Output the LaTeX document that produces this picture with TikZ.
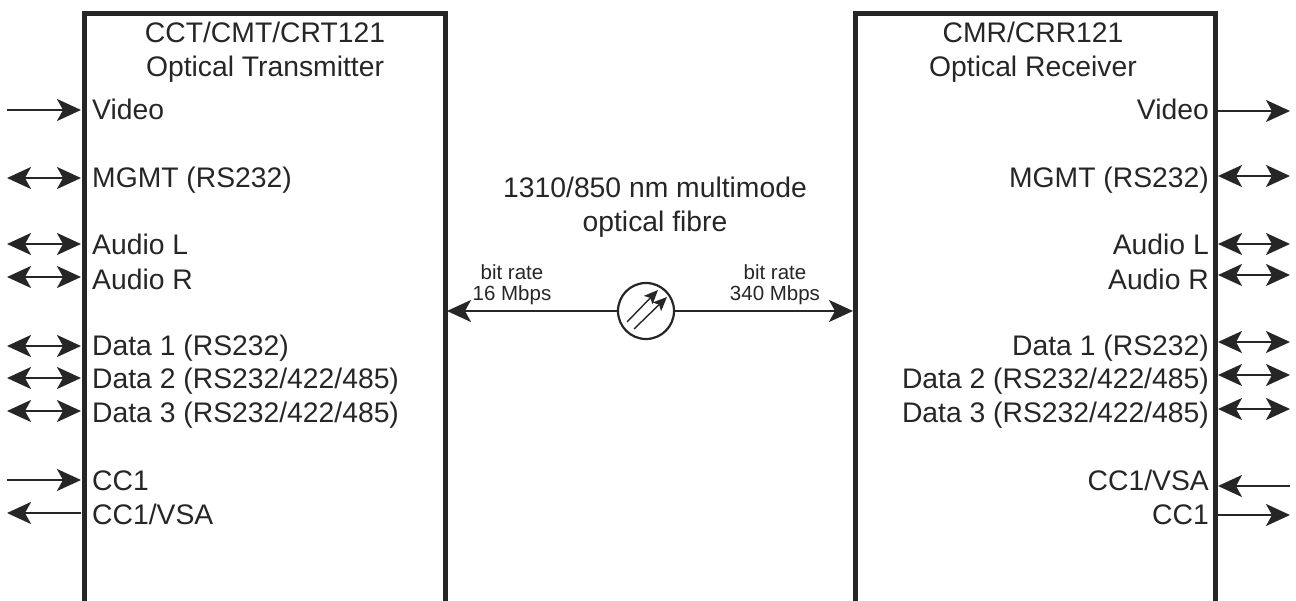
\documentclass[tikz,border=0pt]{standalone}
\usepackage{fontspec}
\setmainfont{Liberation Sans}
\usetikzlibrary{arrows.meta}
\tikzset{
  head/.tip={Stealth[length=24pt,width=22pt,inset=6pt]},
  sig/.style={line width=2.2pt,draw=black!85,head-head},
  sigin/.style={line width=2.2pt,draw=black!85,-head},
  lbl/.style={inner sep=0pt,text=black!85,font=\fontsize{28.3}{34.5}\selectfont},
  lblw/.style={lbl,anchor=base west},
  lble/.style={lbl,anchor=base east},
  small/.style={inner sep=0pt,text=black!85,align=center,font=\fontsize{20.5}{21}\selectfont}
}
\begin{document}
\begin{tikzpicture}[x=1pt,y=-1pt]
    \useasboundingbox (0,0) rectangle (1296,601);

    % Boxes
    \draw[line width=5pt,draw=black!85] (84,601) -- (84,14) -- (445,14) -- (445,601);
    \draw[line width=5pt,draw=black!85] (855,601) -- (855,14) -- (1215,14) -- (1215,601);
    \coordinate (txa) at (447,311);
    \coordinate (rxa) at (853,311);

    % Titles
    \node[lbl,align=center] (txtitle) at (265,52) {CCT/CMT/CRT121\\Optical Transmitter};
    \node[lbl,align=center] (rxtitle) at (1033,52) {CMR/CRR121\\Optical Receiver};
    \node[lbl,align=center] (fibre) at (655,207) {1310/850 nm multimode\\optical fibre};

    % Transmitter ports
    \foreach \name/\py/\pb/\txt in {tv/110/120/Video,tm/178/188/MGMT (RS232),tl/244/255/Audio L,tr/277/290/Audio R,
      ta/346/356/Data 1 (RS232),tb/378/389/{Data 2 (RS232/422/485)},tc/411/423/{Data 3 (RS232/422/485)},
      td/480/490/CC1,te/513/524/{CC1/VSA}}{
      \coordinate (\name o) at (7,\py);
      \coordinate (\name i) at (81,\py);
      \node[lblw] (\name) at (92,\pb) {\txt};
    }
    \draw[sigin] (tvo) -- (tvi);
    \foreach \name in {tm,tl,tr,ta,tb,tc}
      \draw[sig] (\name o) -- (\name i);
    \draw[sigin] (tdo) -- (tdi);
    \draw[sigin] (tei) -- (teo);

    % Receiver ports
    \foreach \name/\py/\pb/\txt in {rv/111/120/Video,rm/176/188/MGMT (RS232),rl/244/255/Audio L,rr/275/290/Audio R,
      ra/342/356/Data 1 (RS232),rb/375/389/{Data 2 (RS232/422/485)},rc/409/423/{Data 3 (RS232/422/485)},
      rd/486/490/{CC1/VSA},re/515/524/CC1}{
      \coordinate (\name o) at (1290,\py);
      \coordinate (\name i) at (1218,\py);
      \node[lble] (\name) at (1209,\pb) {\txt};
    }
    \draw[sigin] (rvi) -- (rvo);
    \foreach \name in {rm,rl,rr,ra,rb,rc}
      \draw[sig] (\name i) -- (\name o);
    \draw[sigin] (rdo) -- (rdi);
    \draw[sigin] (rei) -- (reo);

    % Fibre
    \node[circle,draw=black!85,line width=2.2pt,minimum size=56pt,inner sep=0pt] (fib) at (646,311) {};
    \draw[line width=2.2pt,draw=black!85,head-] (txa) -- (fib);
    \draw[line width=2.2pt,draw=black!85,-head] (fib) -- (rxa);
    \draw[line width=1.4pt,draw=black!85,-{Stealth[length=14pt,width=12pt,inset=3pt]}] (627,322) -- (658,290);
    \draw[line width=1.4pt,draw=black!85,-{Stealth[length=14pt,width=12pt,inset=3pt]}] (634,329) -- (667,297);
    \node[small] (ratel) at (512,284.5) {bit rate\\16 Mbps};
    \node[small] (rater) at (775,284.5) {bit rate\\340 Mbps};

\end{tikzpicture}
\end{document}
